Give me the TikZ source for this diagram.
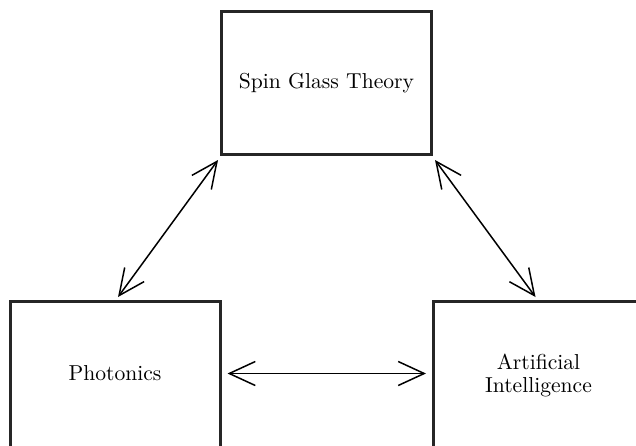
\documentclass[tikz,border=0pt]{standalone}
\usetikzlibrary{arrows.meta}
\begin{document}
\begin{tikzpicture}[x=0.5pt,y=-0.5pt,
  box/.style={draw=black!85, line width=1.5pt, minimum width=105pt, minimum height=71.5pt, inner sep=0pt, align=center, font=\fontsize{10.8}{11.5}\selectfont},
  lowbox/.style={box, minimum height=76pt},
  link/.style={line width=0.75pt, {Straight Barb[length=13pt,width=12pt]}-{Straight Barb[length=13pt,width=12pt]}}]
\useasboundingbox (0,0) rectangle (636,445);
\clip (0,0) rectangle (636,445);
\node[box] (sgt) at (326.5,83) {Spin Glass Theory};
\node[lowbox] (ph) at (115,377.5) {Photonics\\[-7pt]};
\node[lowbox] (ai) at (538.5,377.5) {Artificial\\Intelligence\\[-7pt]};
\draw[link] ([xshift=-1pt,yshift=-2pt]sgt.south west) -- ([xshift=1.5pt,yshift=1.5pt]ph.north);
\draw[link] ([xshift=1pt,yshift=-2pt]sgt.south east) -- ([xshift=-1.5pt,yshift=1.5pt]ai.north);
\draw[link] ([xshift=3pt,yshift=2pt]ph.east) -- ([xshift=-3pt,yshift=2pt]ai.west);
\end{tikzpicture}
\end{document}
